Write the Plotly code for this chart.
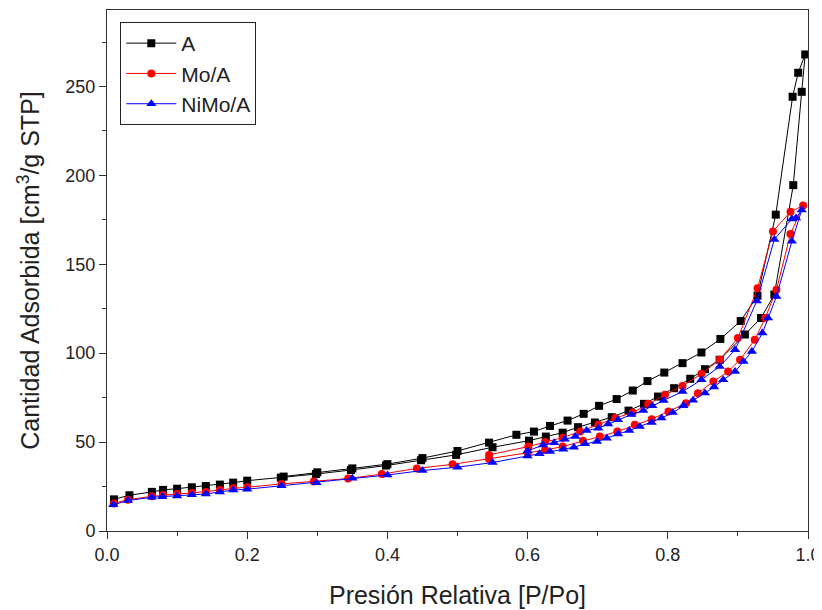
import plotly.graph_objects as go

# ---- Data (P/Po, cm3/g STP) ----
a_ads_x = [0.010, 0.032, 0.064, 0.080, 0.100, 0.121, 0.141, 0.161, 0.180, 0.200, 0.248, 0.298, 0.348, 0.398, 0.448, 0.498, 0.550, 0.602, 0.626, 0.650, 0.672, 0.696, 0.720, 0.744, 0.766, 0.786, 0.809, 0.832, 0.853, 0.874, 0.910, 0.933, 0.952, 0.979, 0.991, 0.996]
a_ads_y = [17.8, 20.1, 22.0, 23.1, 23.8, 24.6, 25.3, 26.1, 27.2, 28.3, 30.0, 32.0, 34.3, 36.8, 39.8, 42.8, 47.1, 50.8, 53.1, 55.3, 58.4, 61.0, 64.0, 67.7, 71.5, 75.6, 80.3, 85.6, 91.0, 96.3, 110.5, 119.8, 133.0, 194.5, 247.0, 268.0]
a_des_x = [0.986, 0.978, 0.954, 0.928, 0.904, 0.875, 0.848, 0.821, 0.795, 0.771, 0.750, 0.727, 0.702, 0.680, 0.657, 0.632, 0.609, 0.584, 0.545, 0.500, 0.450, 0.400, 0.350, 0.300, 0.252]
a_des_y = [257.7, 244.2, 177.9, 132.3, 118.1, 108.0, 100.4, 94.4, 89.1, 84.3, 79.0, 74.2, 70.4, 65.9, 62.1, 59.1, 55.9, 54.1, 49.7, 45.0, 41.0, 37.6, 35.2, 33.0, 30.6]

mo_ads_x = [0.010, 0.030, 0.064, 0.080, 0.100, 0.121, 0.141, 0.161, 0.180, 0.200, 0.249, 0.295, 0.344, 0.392, 0.442, 0.493, 0.545, 0.600, 0.625, 0.650, 0.679, 0.703, 0.728, 0.753, 0.777, 0.801, 0.826, 0.843, 0.865, 0.886, 0.903, 0.924, 0.939, 0.955, 0.975, 0.993]
mo_ads_y = [15.5, 17.6, 19.5, 20.2, 20.8, 21.4, 22.0, 23.0, 24.0, 24.6, 26.5, 27.8, 29.5, 32.0, 35.2, 37.5, 40.5, 44.0, 45.5, 47.5, 50.8, 53.1, 55.9, 59.7, 62.9, 67.2, 71.9, 77.5, 84.1, 89.7, 96.3, 107.5, 119.8, 135.7, 167.0, 183.0]
mo_des_x = [0.975, 0.950, 0.928, 0.900, 0.874, 0.848, 0.821, 0.796, 0.772, 0.750, 0.725, 0.701, 0.675, 0.650, 0.625, 0.601, 0.545]
mo_des_y = [179.5, 168.5, 136.5, 108.5, 96.3, 88.4, 81.6, 76.6, 71.5, 66.6, 63.5, 59.7, 55.9, 52.5, 50.0, 47.5, 42.8]

nimo_ads_x = [0.009, 0.030, 0.064, 0.079, 0.100, 0.121, 0.141, 0.161, 0.180, 0.200, 0.249, 0.299, 0.350, 0.400, 0.450, 0.500, 0.550, 0.600, 0.617, 0.632, 0.651, 0.666, 0.682, 0.699, 0.713, 0.729, 0.745, 0.760, 0.777, 0.791, 0.807, 0.822, 0.836, 0.853, 0.866, 0.879, 0.896, 0.908, 0.920, 0.935, 0.943, 0.955, 0.977, 0.991]
nimo_ads_y = [14.8, 17.1, 19.0, 19.3, 19.7, 20.4, 20.8, 22.0, 23.0, 23.5, 25.5, 27.2, 29.7, 31.5, 34.0, 35.9, 38.5, 42.2, 43.4, 44.7, 46.0, 47.1, 49.0, 50.3, 52.2, 54.6, 56.5, 58.7, 61.0, 63.5, 66.6, 70.4, 73.5, 77.6, 81.0, 85.0, 89.7, 95.3, 101.0, 111.3, 119.8, 131.9, 162.9, 180.5]
nimo_des_x = [0.983, 0.977, 0.952, 0.927, 0.896, 0.874, 0.848, 0.821, 0.794, 0.778, 0.765, 0.748, 0.729, 0.715, 0.701, 0.684, 0.668, 0.653, 0.638, 0.622, 0.600]
nimo_des_y = [176.0, 175.5, 164.0, 129.4, 101.9, 92.5, 85.0, 78.4, 73.4, 70.4, 67.7, 65.5, 62.5, 60.2, 57.8, 56.5, 53.1, 51.6, 49.7, 48.4, 45.0]

series_names = ["A", "Mo/A", "NiMo/A"]
x_ticks = [0.0, 0.2, 0.4, 0.6, 0.8, 1.0]
y_ticks = [0, 50, 100, 150, 200, 250]

fig = go.Figure()
specs = [
    (series_names[0], a_ads_x + a_des_x, a_ads_y + a_des_y, "black", "square", 8),
    (series_names[1], mo_ads_x + mo_des_x, mo_ads_y + mo_des_y, "red", "circle", 8),
    (series_names[2], nimo_ads_x + nimo_des_x, nimo_ads_y + nimo_des_y, "blue", "triangle-up", 9),
]
for name, xs, ys, col, sym, sz in specs:
    fig.add_trace(go.Scatter(
        x=xs, y=ys, mode="lines+markers", name=name,
        line=dict(color=col, width=1),
        marker=dict(color=col, symbol=sym, size=sz, line=dict(width=0)),
    ))

tickfont = dict(family="Liberation Sans Narrow, Arial Narrow, Liberation Sans, Arial", size=18, color="#222")
xtitlefont = dict(family="Liberation Sans, Arial", size=25, color="#222")
ytitlefont = dict(family="Liberation Sans, Arial", size=25, color="#222")

fig.update_layout(
    width=814, height=602,
    margin=dict(l=99, r=14, t=2, b=79),
    plot_bgcolor="white", paper_bgcolor="white",
    showlegend=True,
    legend=dict(
        x=0.019, y=0.977, xanchor="left", yanchor="top",
        bgcolor="white", bordercolor="#222", borderwidth=1,
        font=dict(family="Liberation Sans, Arial", size=21, color="#222"),
        tracegroupgap=0, itemwidth=50,
    ),
    xaxis=dict(
        range=[0, 1], tickvals=x_ticks, ticktext=[f"{v:.1f}" for v in x_ticks],
        showgrid=False, zeroline=False,
        showline=True, linecolor="#333", linewidth=1, mirror=True,
        ticks="outside", ticklen=7, tickcolor="#333",
        minor=dict(ticks="outside", ticklen=4, dtick=0.1, tickcolor="#333", showgrid=False),
        tickfont=tickfont,
        title=dict(text="Presión Relativa [P/Po]", font=xtitlefont, standoff=22),
    ),
    yaxis=dict(
        range=[0, 293], tickvals=y_ticks,
        showgrid=False, zeroline=False,
        showline=True, linecolor="#333", linewidth=1, mirror=True,
        ticks="outside", ticklen=7, tickcolor="#333",
        minor=dict(ticks="outside", ticklen=4, dtick=25, tickcolor="#333", showgrid=False),
        tickfont=tickfont,
        title=dict(text="Cantidad Adsorbida [cm<sup>3</sup>/g STP]", font=ytitlefont, standoff=18),
    ),
)

fig.write_html("out.html")
